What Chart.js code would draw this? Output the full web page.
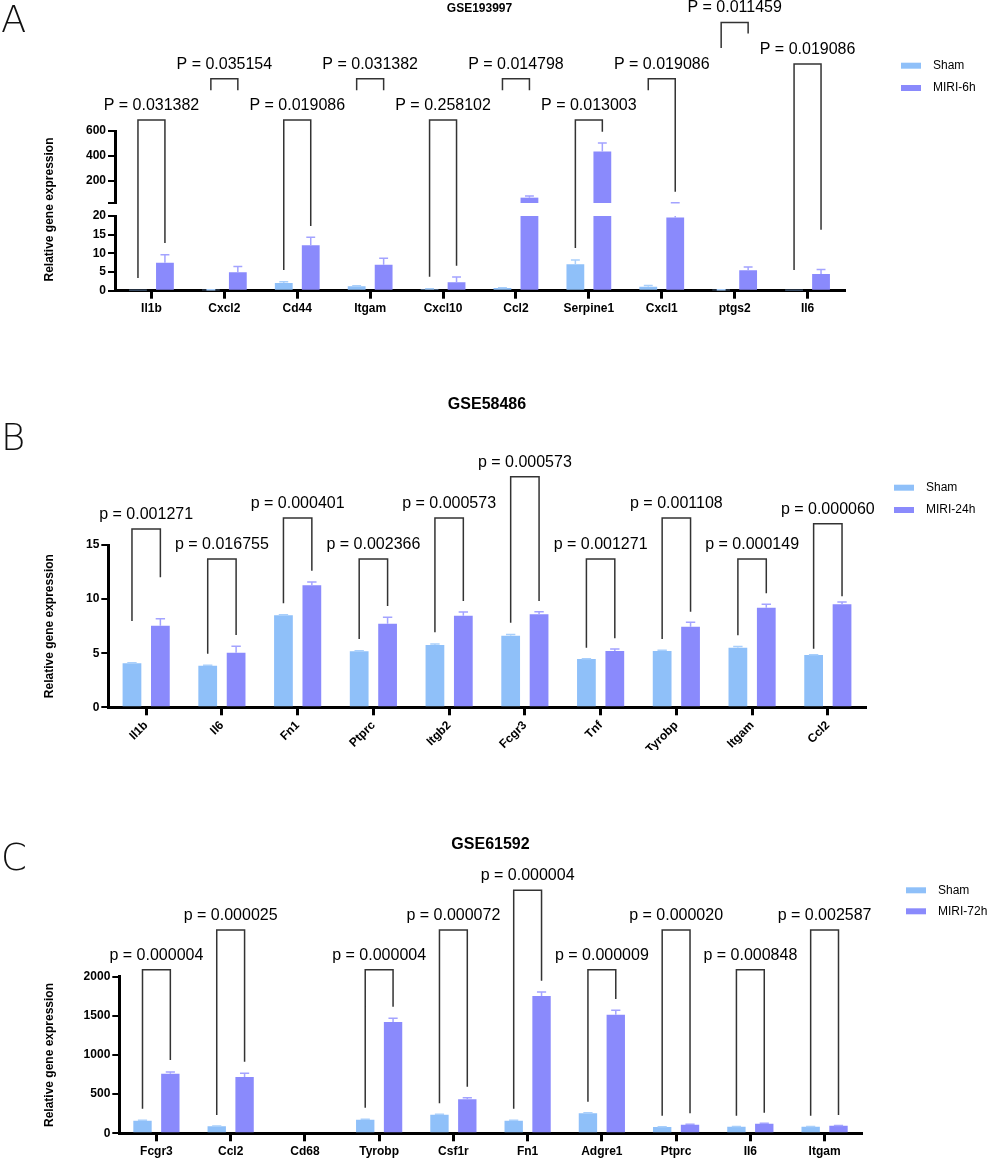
<!DOCTYPE html>
<html>
<head>
<meta charset="utf-8">
<title>Relative gene expression</title>
<script src="https://cdn.jsdelivr.net/npm/chart.js@4.4.1/dist/chart.umd.min.js"></script>
<style>
  body { margin: 0; background: #fff; width: 989px; height: 1159px; position: relative; overflow: hidden; }
  .panel { position: absolute; left: 0; width: 989px; }
  .letter { position: absolute; left: 1px; font-family: 'DejaVu Sans', sans-serif; font-weight: 200; font-size: 37px; line-height: 37px; color: #111; }
</style>
</head>
<body>
<div class="panel" style="top:0;height:330px"><canvas id="chartA" width="989" height="330"></canvas></div>
<div class="panel" style="top:300px;height:450px"><canvas id="chartB" width="989" height="450"></canvas></div>
<div class="panel" style="top:740px;height:419px"><canvas id="chartC" width="989" height="419"></canvas></div>
<div class="letter" style="top:1px">A</div>
<div class="letter" style="top:419px">B</div>
<div class="letter" style="top:839px">C</div>
<script>
// ---- GSE193997 (A) ----
const genesA = ['Il1b', 'Cxcl2', 'Cd44', 'Itgam', 'Cxcl10', 'Ccl2', 'Serpine1', 'Cxcl1', 'ptgs2', 'Il6'];
const shamA = [0.05, 0.15, 2.06, 1.17, 0.4, 0.7, 7.1, 1.07, 0.15, 0.05];
const shamErrA = [0, 0.1, 0.35, 0.15, 0.1, 0.1, 1.1, 0.3, 0.1, 0];
const miriA = [7.5, 4.93, 12.2, 6.97, 2.25, 63, 435, 19.6, 5.47, 4.5];
const miriErrA = [2.15, 1.57, 2.1, 1.73, 1.42, 14, 68, 1.6, 0.85, 1.2];
const pA = ['P = 0.031382', 'P = 0.035154', 'P = 0.019086', 'P = 0.031382', 'P = 0.258102',
            'P = 0.014798', 'P = 0.013003', 'P = 0.019086', 'P = 0.011459', 'P = 0.019086'];
const levelA = [689, 1021, 689, 1021, 689, 1021, 689, 1021, 1475, 1139];
const leftLegA = [3.4, 928, 5.55, 928, 3.75, 928, 11.4, 928, 1268, 5.55];
const rightLegA = [12.8, 928, 17.35, 928, 6.7, 928, 594, 111, 1386, 16.3];
const BREAK = 20;

// ---- GSE58486 (B) ----
const genesB = ['Il1b', 'Il6', 'Fn1', 'Ptprc', 'Itgb2', 'Fcgr3', 'Tnf', 'Tyrobp', 'Itgam', 'Ccl2'];
const shamB = [4.07, 3.85, 8.5, 5.17, 5.76, 6.62, 4.46, 5.2, 5.51, 4.83];
const shamErrB = [0.04, 0.04, 0.05, 0.05, 0.08, 0.1, 0.03, 0.08, 0.1, 0.03];
const miriB = [7.54, 5.05, 11.28, 7.73, 8.47, 8.6, 5.2, 7.45, 9.2, 9.52];
const miriErrB = [0.65, 0.59, 0.3, 0.59, 0.34, 0.24, 0.19, 0.4, 0.32, 0.21];
const pB = ['p = 0.001271', 'p = 0.016755', 'p = 0.000401', 'p = 0.002366', 'p = 0.000573',
            'p = 0.000573', 'p = 0.001271', 'p = 0.001108', 'p = 0.000149', 'p = 0.000060'];
const levelB = [16.48, 13.71, 17.5, 13.71, 17.5, 21.31, 13.71, 17.5, 13.71, 16.97];
const leftLegB = [7.98, 4.95, 9.61, 6.31, 6.93, 7.82, 5.51, 6.31, 6.65, 5.42];
const rightLegB = [12.01, 6.68, 12.62, 9.36, 9.82, 9.82, 6.38, 8.84, 10.54, 10.26];

// ---- GSE61592 (C) ----
const genesC = ['Fcgr3', 'Ccl2', 'Cd68', 'Tyrobp', 'Csf1r', 'Fn1', 'Adgre1', 'Ptprc', 'Il6', 'Itgam'];
const shamC = [161, 89, 0, 174, 238, 161, 255, 80, 85, 85];
const shamErrC = [5, 4, 0, 5, 6, 5, 8, 3, 3, 3];
const miriC = [761, 719, 0, 1421, 434, 1753, 1515, 110, 123, 97];
const miriErrC = [22, 47, 0, 48, 21, 51, 56, 4, 5, 4];
const pC = ['p = 0.000004', 'p = 0.000025', null, 'p = 0.000004', 'p = 0.000072',
            'p = 0.000004', 'p = 0.000009', 'p = 0.000020', 'p = 0.000848', 'p = 0.002587'];
const levelC = [2089, 2596, null, 2089, 2596, 3103, 2089, 2596, 2089, 2596];
const leftLegC = [314, 234, null, 327, 383, 314, 404, 225, 225, 225];
const rightLegC = [936, 914, null, 1617, 595, 1949, 1715, 255, 263, 234];

const SHAM = '#8fc0f9';
const MIRI = '#8a8afc';
const SHAM_ERR = '#a9cffb';
const MIRI_ERR = '#a3a3ff';

Chart.defaults.font.family = "'Liberation Sans', Arial, sans-serif";
Chart.defaults.color = '#000';

// value -> pixel, handles the broken axis of panel A
function valuePx(chart, v) {
    if (chart.scales.yHigh) {
        return v > BREAK ? chart.scales.yHigh.getPixelForValue(v) : chart.scales.yLow.getPixelForValue(v);
    }
    return chart.scales.y.getPixelForValue(v);
}

// error bars (upper half only), drawn over every y segment they cross
function errorBarPlugin(groups, segments) {
    return {
        id: 'errorBars',
        afterDatasetsDraw(chart) {
            const ctx = chart.ctx;
            groups.forEach(g => {
                const meta = chart.getDatasetMeta(g.dataset);
                g.values.forEach((v, i) => {
                    const e = g.errors[i];
                    if (!e) return;
                    const bar = meta.data[i];
                    const x = bar.x;
                    const cap = bar.width / 4;
                    const top = v + e;
                    ctx.save();
                    ctx.strokeStyle = g.color;
                    ctx.lineWidth = 1.5;
                    segments.forEach(id => {
                        const s = chart.scales[id];
                        const lo = Math.max(v, s.min);
                        const hi = Math.min(top, s.max);
                        if (hi <= lo) return;
                        ctx.beginPath();
                        ctx.moveTo(x, s.getPixelForValue(lo));
                        ctx.lineTo(x, s.getPixelForValue(hi));
                        if (top <= s.max) {
                            const y = s.getPixelForValue(top);
                            ctx.moveTo(x - cap, y);
                            ctx.lineTo(x + cap, y);
                        }
                        ctx.stroke();
                    });
                    ctx.restore();
                });
            });
        }
    };
}

// significance brackets with p labels
function bracketPlugin(labels, levels, leftLegs, rightLegs) {
    return {
        id: 'brackets',
        afterDraw(chart) {
            const ctx = chart.ctx;
            const m0 = chart.getDatasetMeta(0);
            const m1 = chart.getDatasetMeta(1);
            ctx.save();
            ctx.strokeStyle = '#333';
            ctx.lineWidth = 1.5;
            ctx.fillStyle = '#000';
            ctx.font = "16px 'Liberation Sans', Arial, sans-serif";
            ctx.textAlign = 'center';
            ctx.textBaseline = 'middle';
            labels.forEach((t, i) => {
                if (!t) return;
                const x1 = m0.data[i].x;
                const x2 = m1.data[i].x;
                const yl = valuePx(chart, levels[i]);
                ctx.beginPath();
                ctx.moveTo(x1, valuePx(chart, leftLegs[i]));
                ctx.lineTo(x1, yl);
                ctx.lineTo(x2, yl);
                ctx.lineTo(x2, valuePx(chart, rightLegs[i]));
                ctx.stroke();
                ctx.fillText(t, (x1 + x2) / 2, yl - 14.5);
            });
            ctx.restore();
        }
    };
}

// small legend at the right side
function legendPlugin(x, y, step) {
    return {
        id: 'sideLegend',
        afterDraw(chart) {
            const ctx = chart.ctx;
            ctx.save();
            ctx.font = "12px 'Liberation Sans', Arial, sans-serif";
            ctx.textBaseline = 'middle';
            ctx.textAlign = 'left';
            [0, 1].forEach(k => {
                const ds = chart.data.datasets[k];
                const yy = y + k * step;
                ctx.fillStyle = ds.backgroundColor;
                ctx.fillRect(x, yy - 3, 20, 6);
                ctx.fillStyle = '#000';
                ctx.fillText(ds.label, x + 32, yy);
            });
            ctx.restore();
        }
    };
}

function xAxis(height, rotation) {
    return {
        type: 'category',
        offset: true,
        grid: { display: true, drawOnChartArea: false, offset: false, tickLength: 8, lineWidth: 3, color: '#000' },
        border: { display: true, width: 3, color: '#000' },
        ticks: { font: { size: 12, weight: 'bold' }, color: '#000', padding: 3, autoSkip: false,
                 minRotation: rotation, maxRotation: rotation },
        afterFit: s => { s.height = height; }
    };
}

function yTicks(extra) {
    return Object.assign({ font: { size: 12, weight: 'bold' }, color: '#000', padding: 2,
                           callback: v => String(v) }, extra);
}

function yAxis(width, extra) {
    return Object.assign({
        type: 'linear',
        position: 'left',
        grid: { display: true, drawOnChartArea: false, tickLength: 7, lineWidth: 2, color: '#000' },
        border: { display: true, width: 3, color: '#000' },
        ticks: yTicks({}),
        title: { display: true, text: 'Relative gene expression', font: { size: 12, weight: 'bold' },
                 color: '#000', padding: { top: 42.8, bottom: 0 } },
        afterFit: s => { s.width = width; }
    }, extra);
}

function titleOpts(text, size, top, bottom) {
    return { display: true, text: text, fullSize: false, color: '#000',
             font: { size: size, weight: 'bold' }, padding: { top: top, bottom: bottom } };
}

// ---------- Panel A : broken y axis ----------
new Chart(document.getElementById('chartA'), {
    type: 'bar',
    data: {
        labels: genesA,
        datasets: [
            { label: 'Sham', data: shamA.map(v => Math.min(v, BREAK)), backgroundColor: SHAM, yAxisID: 'yLow', stack: 'sham' },
            { label: 'MIRI-6h', data: miriA.map(v => Math.min(v, BREAK)), backgroundColor: MIRI, yAxisID: 'yLow', stack: 'miri' },
            { label: 'Sham', data: shamA.map(v => v > BREAK ? [BREAK, v] : null), backgroundColor: SHAM, yAxisID: 'yHigh', stack: 'sham' },
            { label: 'MIRI-6h', data: miriA.map(v => v > BREAK ? [BREAK, v] : null), backgroundColor: MIRI, yAxisID: 'yHigh', stack: 'miri' }
        ]
    },
    options: {
        responsive: false,
        animation: false,
        categoryPercentage: 0.74,
        barPercentage: 0.66,
        layout: { padding: { left: 0, right: 145, top: 0, bottom: 0 } },
        plugins: {
            legend: { display: false },
            tooltip: { enabled: false },
            title: titleOpts('GSE193997', 12, 1, 115.6)
        },
        scales: {
            x: Object.assign(xAxis(39.3, 0), { stacked: true }),
            yHigh: yAxis(115, {
                stack: 'v', stackWeight: 72, weight: 3, min: BREAK, max: 600, stacked: false,
                title: { display: false },
                afterBuildTicks: s => { s.ticks = [BREAK, 200, 400, 600].map(v => ({ value: v })); },
                ticks: yTicks({ callback: v => v === BREAK ? '' : String(v) })
            }),
            yGap: yAxis(115, {
                stack: 'v', stackWeight: 13, weight: 2, min: 0, max: 1,
                grid: { display: false }, border: { display: false }, ticks: { display: false }
            }),
            yLow: yAxis(115, {
                stack: 'v', stackWeight: 74.7, weight: 1, min: 0, max: BREAK, stacked: false,
                title: { display: false },
                ticks: yTicks({ stepSize: 5 })
            })
        }
    },
    plugins: [
        errorBarPlugin([
            { dataset: 0, values: shamA, errors: shamErrA, color: SHAM_ERR },
            { dataset: 1, values: miriA, errors: miriErrA, color: MIRI_ERR }
        ], ['yLow', 'yHigh']),
        bracketPlugin(pA, levelA, leftLegA, rightLegA),
        legendPlugin(901, 65.7, 22.3)
    ]
});

// ---------- Panel B ----------
new Chart(document.getElementById('chartB'), {
    type: 'bar',
    data: {
        labels: genesB,
        datasets: [
            { label: 'Sham', data: shamB, backgroundColor: SHAM },
            { label: 'MIRI-24h', data: miriB, backgroundColor: MIRI }
        ]
    },
    options: {
        responsive: false,
        animation: false,
        categoryPercentage: 0.75,
        barPercentage: 0.66,
        layout: { padding: { left: 0, right: 123.3, top: 0, bottom: 0 } },
        plugins: {
            legend: { display: false },
            tooltip: { enabled: false },
            title: titleOpts('GSE58486', 16, 95.4, 130.4)
        },
        scales: {
            x: xAxis(42.7, 45),
            y: yAxis(108.3, { min: 0, max: 15, ticks: yTicks({ stepSize: 5 }) })
        }
    },
    plugins: [
        errorBarPlugin([
            { dataset: 0, values: shamB, errors: shamErrB, color: SHAM_ERR },
            { dataset: 1, values: miriB, errors: miriErrB, color: MIRI_ERR }
        ], ['y']),
        bracketPlugin(pB, levelB, leftLegB, rightLegB),
        legendPlugin(894, 187.7, 22.3)
    ]
});

// ---------- Panel C ----------
new Chart(document.getElementById('chartC'), {
    type: 'bar',
    data: {
        labels: genesC,
        datasets: [
            { label: 'Sham', data: shamC, backgroundColor: SHAM },
            { label: 'MIRI-72h', data: miriC, backgroundColor: MIRI }
        ]
    },
    options: {
        responsive: false,
        animation: false,
        categoryPercentage: 0.75,
        barPercentage: 0.66,
        layout: { padding: { left: 0, right: 127.3, top: 0, bottom: 0 } },
        plugins: {
            legend: { display: false },
            tooltip: { enabled: false },
            title: titleOpts('GSE61592', 16, 95.4, 122.1)
        },
        scales: {
            x: xAxis(25.7, 0),
            y: yAxis(119.3, { min: 0, max: 2000, ticks: yTicks({ stepSize: 500 }) })
        }
    },
    plugins: [
        errorBarPlugin([
            { dataset: 0, values: shamC, errors: shamErrC, color: SHAM_ERR },
            { dataset: 1, values: miriC, errors: miriErrC, color: MIRI_ERR }
        ], ['y']),
        bracketPlugin(pC, levelC, leftLegC, rightLegC),
        legendPlugin(906, 150.3, 21)
    ]
});
</script>
</body>
</html>
